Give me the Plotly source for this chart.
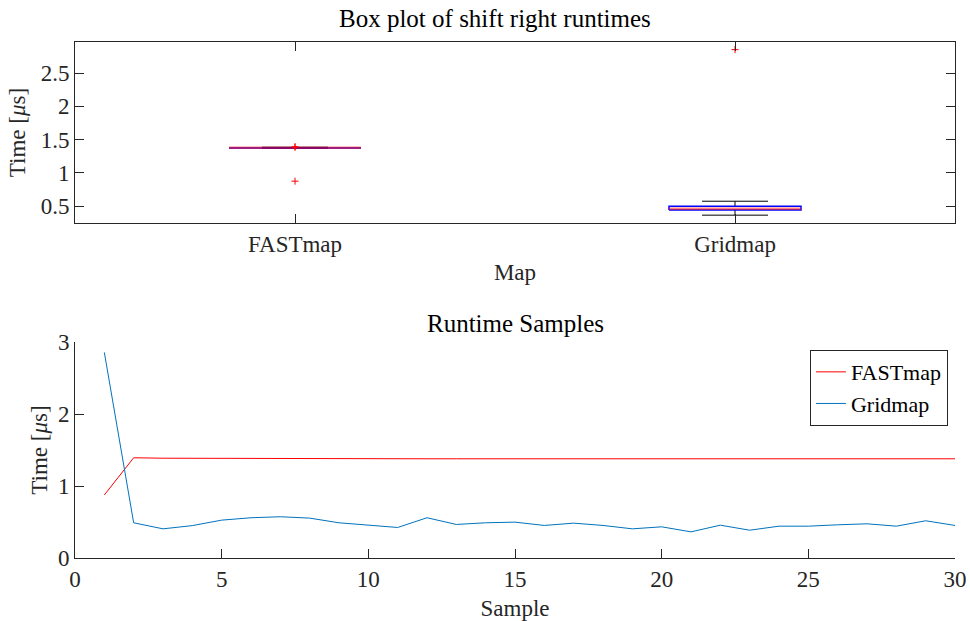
import numpy as np
import plotly.graph_objects as go

# Runtime samples (microseconds) for the shift-right operation
samples = list(range(1, 31))
fastmap_us = [0.875, 1.392, 1.386, 1.384, 1.388, 1.386, 1.380, 1.380, 1.380, 1.380,
              1.379, 1.378, 1.378, 1.378, 1.377, 1.377, 1.376, 1.376, 1.375, 1.375,
              1.372, 1.373, 1.373, 1.374, 1.375, 1.376, 1.376, 1.377, 1.378, 1.378]
gridmap_us = [2.855, 0.489, 0.405, 0.450, 0.526, 0.559, 0.573, 0.554, 0.489, 0.452,
              0.424, 0.559, 0.466, 0.489, 0.498, 0.452, 0.484, 0.452, 0.405, 0.433,
              0.363, 0.456, 0.386, 0.442, 0.442, 0.461, 0.475, 0.442, 0.517, 0.452]
map_names = ["FASTmap", "Gridmap"]

FONT = "Liberation Serif"
AX = "#262626"
RED = "#ff0000"
BLUE = "#0000ff"
LINE_BLUE = "#0072bd"


def quantile(v, p):
    """Quantile with midpoint plotting positions (i - 0.5) / n."""
    s = np.sort(np.asarray(v, dtype=float))
    n = len(s)
    pos = n * p + 0.5
    if pos <= 1:
        return s[0]
    if pos >= n:
        return s[-1]
    lo = int(np.floor(pos))
    frac = pos - lo
    return s[lo - 1] + frac * (s[lo] - s[lo - 1])


def box_stats(v):
    v = np.asarray(v, dtype=float)
    q1, med, q3 = quantile(v, 0.25), quantile(v, 0.5), quantile(v, 0.75)
    iqr = q3 - q1
    lo_f, hi_f = q1 - 1.5 * iqr, q3 + 1.5 * iqr
    inside = v[(v >= lo_f) & (v <= hi_f)]
    out = v[(v < lo_f) | (v > hi_f)]
    return q1, med, q3, inside.min(), inside.max(), out


fig = go.Figure()

# Box plot panel
half_box, half_cap = 0.15, 0.075
for k, vals in enumerate([fastmap_us, gridmap_us], start=1):
    q1, med, q3, wlo, whi, out = box_stats(vals)
    fig.add_trace(go.Scatter(
        x=[k, k, None, k, k], y=[q3, whi, None, q1, wlo],
        mode="lines", line=dict(color="#000000", width=1),
        showlegend=False, hoverinfo="skip", xaxis="x", yaxis="y"))
    fig.add_trace(go.Scatter(
        x=[k - half_cap, k + half_cap, None, k - half_cap, k + half_cap],
        y=[whi, whi, None, wlo, wlo],
        mode="lines", line=dict(color="#000000", width=1),
        showlegend=False, hoverinfo="skip", xaxis="x", yaxis="y"))
    fig.add_trace(go.Scatter(
        x=[k - half_box, k + half_box, k + half_box, k - half_box, k - half_box],
        y=[q1, q1, q3, q3, q1],
        mode="lines", line=dict(color=BLUE, width=1.5),
        showlegend=False, hoverinfo="skip", xaxis="x", yaxis="y"))
    fig.add_trace(go.Scatter(
        x=[k - half_box, k + half_box], y=[med, med],
        mode="lines", line=dict(color=RED, width=2.5), opacity=0.5,
        showlegend=False, hoverinfo="skip", xaxis="x", yaxis="y"))
    fig.add_trace(go.Scatter(
        x=[k] * len(out), y=list(out), mode="markers",
        marker=dict(symbol="cross-thin", size=5, line=dict(color=RED, width=1)),
        showlegend=False, hoverinfo="skip", xaxis="x", yaxis="y"))

# Runtime samples panel
fig.add_trace(go.Scatter(x=samples, y=fastmap_us, mode="lines", name="FASTmap",
                         line=dict(color=RED, width=1), xaxis="x2", yaxis="y2"))
fig.add_trace(go.Scatter(x=samples, y=gridmap_us, mode="lines", name="Gridmap",
                         line=dict(color=LINE_BLUE, width=1), xaxis="x2", yaxis="y2"))

axis_common = dict(
    showline=True, linecolor=AX, linewidth=1, showgrid=False, zeroline=False,
    ticks="inside", ticklen=9, tickcolor=AX, tickwidth=1, automargin=False,
    tickfont=dict(family=FONT, size=23, color=AX),
)
title_font = dict(family=FONT, size=23, color=AX)

fig.update_layout(
    width=970, height=621,
    margin=dict(l=75, r=15, t=42, b=63, autoexpand=False),
    paper_bgcolor="white", plot_bgcolor="white",
    font=dict(family=FONT, color=AX),
    xaxis=dict(axis_common, domain=[0, 1], anchor="y", range=[0.5, 2.5],
               tickvals=[1, 2], ticktext=map_names, mirror="ticks",
               title=dict(text="Map", font=title_font, standoff=8)),
    yaxis=dict(axis_common, domain=[0.6492, 1], anchor="x", range=[0.245, 2.97],
               tickvals=[0.5, 1, 1.5, 2, 2.5], ticktext=["0.5", "1", "1.5", "2", "2.5"],
               mirror="ticks",
               title=dict(text="Time [<i>μ</i>s]", font=title_font, standoff=8)),
    xaxis2=dict(axis_common, domain=[0, 1], anchor="y2", range=[0, 30],
                tickvals=[0, 5, 10, 15, 20, 25, 30],
                title=dict(text="Sample", font=title_font, standoff=9)),
    yaxis2=dict(axis_common, domain=[0, 0.4186], anchor="x2", range=[0, 3],
                tickvals=[0, 1, 2, 3],
                title=dict(text="Time [<i>μ</i>s]", font=title_font, standoff=3)),
    legend=dict(x=0.992, xanchor="right", y=0.403, yanchor="top",
                bgcolor="white", bordercolor=AX, borderwidth=1,
                font=dict(family=FONT, size=22, color="#000000"),
                itemwidth=30, tracegroupgap=0),
    annotations=[
        dict(text="Box plot of shift right runtimes", xref="paper", yref="paper",
             x=0.477, y=1.0465, xanchor="center", yanchor="middle", showarrow=False,
             font=dict(family=FONT, size=25, color="#000000")),
        dict(text="Runtime Samples", xref="paper", yref="paper",
             x=0.5, y=0.4535, xanchor="center", yanchor="middle", showarrow=False,
             font=dict(family=FONT, size=25, color="#000000")),
    ],
)

fig.write_html("out.html")
